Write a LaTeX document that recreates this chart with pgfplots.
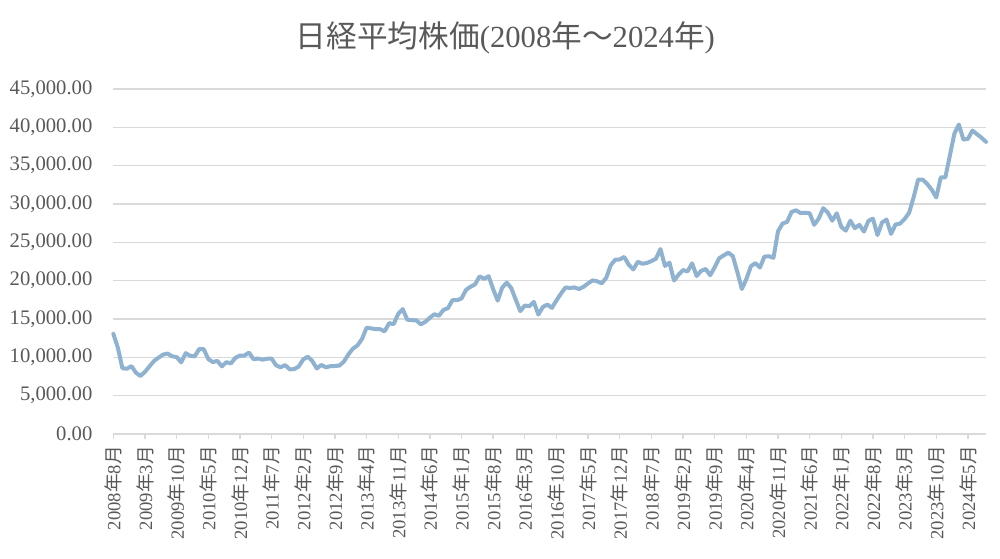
\documentclass[border=0pt]{standalone}
\usepackage{fontspec}
\setmainfont{Liberation Serif}
\newfontfamily\cjk{Noto Sans CJK JP}
\usepackage{pgfplots}
\usepackage{pgfplotstable}
\pgfplotsset{compat=1.18}
\definecolor{linec}{RGB}{143,178,209}
\definecolor{gridc}{RGB}{217,217,217}
\definecolor{textc}{RGB}{89,89,89}
\newcommand\ym[2]{#1{\cjk 年}#2{\cjk 月}}

\pgfplotstableread{
v
13072.87
11259.86
8576.98
8512.27
8859.56
7994.05
7568.42
8109.53
8828.26
9522.50
9958.44
10356.83
10492.53
10133.23
10034.74
9345.55
10546.44
10198.04
10126.03
11089.94
11057.40
9768.70
9382.64
9537.30
8824.06
9369.35
9202.45
9937.04
10228.92
10237.92
10624.09
9755.10
9849.74
9693.73
9816.09
9833.03
8955.20
8700.29
8988.39
8434.61
8455.35
8802.51
9723.24
10083.56
9520.89
8542.73
9006.78
8695.06
8839.91
8870.16
8928.29
9446.01
10395.18
11138.66
11559.36
12397.91
13860.86
13774.54
13677.32
13668.32
13388.86
14455.80
14327.94
15661.87
16291.31
14914.53
14841.07
14827.83
14304.11
14632.38
15162.10
15620.77
15424.59
16173.52
16413.76
17459.85
17450.77
17674.39
18797.94
19206.99
19520.01
20563.15
20235.73
20585.24
18890.48
17388.15
19083.10
19747.47
19033.71
17518.30
16026.76
16758.67
16666.05
17234.98
15575.92
16569.27
16887.40
16449.84
17425.02
18308.48
19114.37
19041.34
19118.99
18909.26
19196.74
19650.57
20033.43
19925.18
19646.24
20356.28
22011.61
22724.96
22764.94
23098.29
22068.24
21454.30
22467.87
22201.82
22304.51
22553.72
22865.15
24120.04
21920.46
22351.06
20014.77
20773.49
21385.16
21205.81
22258.73
20601.19
21275.92
21521.53
20704.37
21755.84
22927.04
23293.91
23656.62
23205.18
21142.96
18917.01
20193.69
21877.89
22288.14
21710.00
23139.76
23185.12
22977.13
26433.62
27444.17
27663.39
28966.01
29178.80
28812.63
28860.08
28791.53
27283.59
28089.54
29452.66
28892.69
27821.76
28791.71
27001.98
26526.82
27821.43
26847.90
27279.80
26393.04
27801.64
28091.53
25937.21
27587.46
27968.99
26094.50
27327.11
27445.56
28041.48
28856.44
30887.88
33189.04
33172.22
32619.34
31857.62
30858.85
33486.89
33464.17
36286.71
39166.19
40369.44
38405.66
38487.90
39583.08
39101.82
38647.75
38100.00
}\nikkei

\begin{document}
\begin{tikzpicture}
\useasboundingbox (-85pt,-93.75pt) rectangle (665pt,325.5pt);
\begin{axis}[
  scale only axis,
  width=654.5pt, height=258.75pt,
  xmin=0, xmax=193, ymin=0, ymax=45000,
  separate axis lines,
  axis x line*=bottom,
  axis y line*=left,
  x axis line style={gridc, line width=1.1pt},
  y axis line style={draw=none},
  xtick={0,7,...,189},
  xticklabels={\ym{2008}{8},\ym{2009}{3},\ym{2009}{10},\ym{2010}{5},\ym{2010}{12},\ym{2011}{7},\ym{2012}{2},\ym{2012}{9},\ym{2013}{4},\ym{2013}{11},\ym{2014}{6},\ym{2015}{1},\ym{2015}{8},\ym{2016}{3},\ym{2016}{10},\ym{2017}{5},\ym{2017}{12},\ym{2018}{7},\ym{2019}{2},\ym{2019}{9},\ym{2020}{4},\ym{2020}{11},\ym{2021}{6},\ym{2022}{1},\ym{2022}{8},\ym{2023}{3},\ym{2023}{10},\ym{2024}{5}},
  tick align=outside,
  major tick length=4pt,
  xtick style={gridc, line width=1pt},
  ytick={0,5000,...,45000},
  ytick style={draw=none},
  scaled y ticks=false,
  ymajorgrids,
  grid style={gridc, line width=1.1pt},
  xticklabel style={rotate=90, anchor=east, inner sep=0pt, font=\fontsize{14}{16}\selectfont, text=textc},
  xticklabel shift=5pt,
  yticklabel style={anchor=east, inner sep=0pt, font=\fontsize{15.5}{18}\selectfont, text=textc},
  /pgf/number format/fixed,
  /pgf/number format/fixed zerofill,
  /pgf/number format/precision=2,
  /pgf/number format/1000 sep={,},
  /pgf/number format/assume math mode=true,
  yticklabel shift=11.5pt,
  clip=false,
]
\addplot[linec, line width=3pt, line join=round, line cap=round, mark=none] table[x expr=\coordindex, y=v] {\nikkei};
\end{axis}
\node[anchor=center, text=textc, font=\fontsize{23}{27}\selectfont] at (294pt,297pt)
  {{\cjk 日経平均株価}(2008{\cjk 年～}2024{\cjk 年})};
\end{tikzpicture}
\end{document}
